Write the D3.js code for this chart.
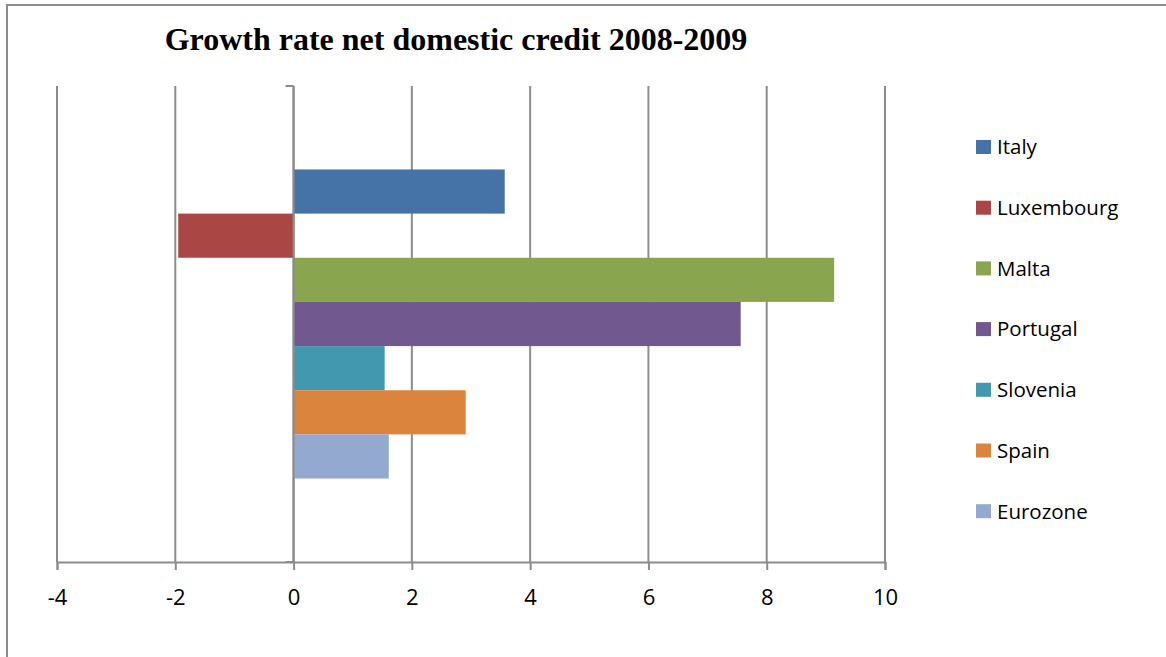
<!DOCTYPE html>
<html>
<head>
<meta charset="utf-8">
<script src="https://cdn.jsdelivr.net/npm/d3@7"></script>
<style>
  html, body { margin: 0; padding: 0; background: #fff; }
  svg { display: block; }
</style>
</head>
<body>
<svg id="chart" width="1166" height="657"></svg>
<script>
// Growth rate of net domestic credit, 2008-2009 (%)
const category = "2008-2009";
const countries = ["Italy", "Luxembourg", "Malta", "Portugal", "Slovenia", "Spain", "Eurozone"];
const growth = [3.57, -1.95, 9.14, 7.56, 1.54, 2.91, 1.61];
const colors = ["#4572a7", "#aa4643", "#89a54e", "#71588f", "#4198af", "#db843d", "#93a9cf"];
const xTicks = [-4, -2, 0, 2, 4, 6, 8, 10];

const svg = d3.select("#chart");
const W = 1166, H = 657;
const plot = { left: 57, right: 885, top: 86, bottom: 562 };
const gridColor = "#8c8c8c";

// chart frame
svg.append("rect")
  .attr("x", 7).attr("y", 5)
  .attr("width", W + 10).attr("height", H + 10)
  .attr("fill", "none").attr("stroke", "#8c8c8c").attr("stroke-width", 2);

// title
svg.append("text")
  .attr("x", 456).attr("y", 50)
  .attr("text-anchor", "middle")
  .attr("font-family", "'Liberation Serif', 'Times New Roman', serif")
  .attr("font-weight", "bold")
  .attr("font-size", 32)
  .attr("fill", "#000")
  .text("Growth rate net domestic credit 2008-2009");

const x = d3.scaleLinear().domain([xTicks[0], xTicks[xTicks.length - 1]]).range([plot.left, plot.right]);

const yCat = d3.scaleBand().domain([category]).range([plot.top, plot.bottom])
  .paddingInner(0).paddingOuter(0.27);
const ySeries = d3.scaleBand().domain(countries).range([0, yCat.bandwidth()]);

// vertical gridlines
svg.append("g").selectAll("line")
  .data(xTicks)
  .join("line")
  .attr("x1", d => x(d)).attr("x2", d => x(d))
  .attr("y1", plot.top).attr("y2", plot.bottom)
  .attr("stroke", gridColor).attr("stroke-width", 2);

// bars
const rows = countries.map((c, i) => ({ name: c, value: growth[i], color: colors[i] }));
svg.append("g").selectAll("rect")
  .data(rows)
  .join("rect")
  .attr("x", d => x(Math.min(0, d.value)))
  .attr("width", d => Math.abs(x(d.value) - x(0)))
  .attr("y", d => yCat(category) + ySeries(d.name))
  .attr("height", ySeries.bandwidth())
  .attr("fill", d => d.color);

// category axis at zero with outer ticks
const yAxisG = svg.append("g");
yAxisG.append("line")
  .attr("x1", x(0)).attr("x2", x(0))
  .attr("y1", plot.top).attr("y2", plot.bottom)
  .attr("stroke", gridColor).attr("stroke-width", 2);
yAxisG.selectAll("line.tick")
  .data([plot.top, plot.bottom])
  .join("line").attr("class", "tick")
  .attr("x1", x(0) - 8).attr("x2", x(0))
  .attr("y1", d => d).attr("y2", d => d)
  .attr("stroke", gridColor).attr("stroke-width", 2);

// value axis along the bottom
const xAxis = d3.axisBottom(x).tickValues(xTicks).tickSize(8).tickPadding(19)
  .tickFormat(d => (d < 0 ? "-" + Math.abs(d) : String(d)));
const xg = svg.append("g").attr("transform", `translate(0,${plot.bottom})`).call(xAxis);
xg.attr("font-size", null).attr("font-family", null);
xg.select(".domain").attr("stroke", gridColor).attr("stroke-width", 2);
xg.selectAll(".tick line").attr("stroke", gridColor).attr("stroke-width", 2);
xg.selectAll(".tick text")
  .attr("font-family", "'Open Sans', 'Noto Sans', sans-serif")
  .attr("font-size", 22)
  .attr("fill", "#000");

// legend
const legend = svg.append("g").attr("transform", "translate(976,147)");
const item = legend.selectAll("g")
  .data(rows)
  .join("g")
  .attr("transform", (d, i) => `translate(0,${i * 60.7})`);
item.append("rect")
  .attr("x", 0).attr("y", -7)
  .attr("width", 15).attr("height", 14)
  .attr("fill", d => d.color);
item.append("text")
  .attr("x", 21).attr("y", 0)
  .attr("dy", "0.36em")
  .attr("font-family", "'Open Sans', 'Noto Sans', sans-serif")
  .attr("font-size", 20.5)
  .attr("fill", "#000")
  .text(d => d.name);
</script>
</body>
</html>
